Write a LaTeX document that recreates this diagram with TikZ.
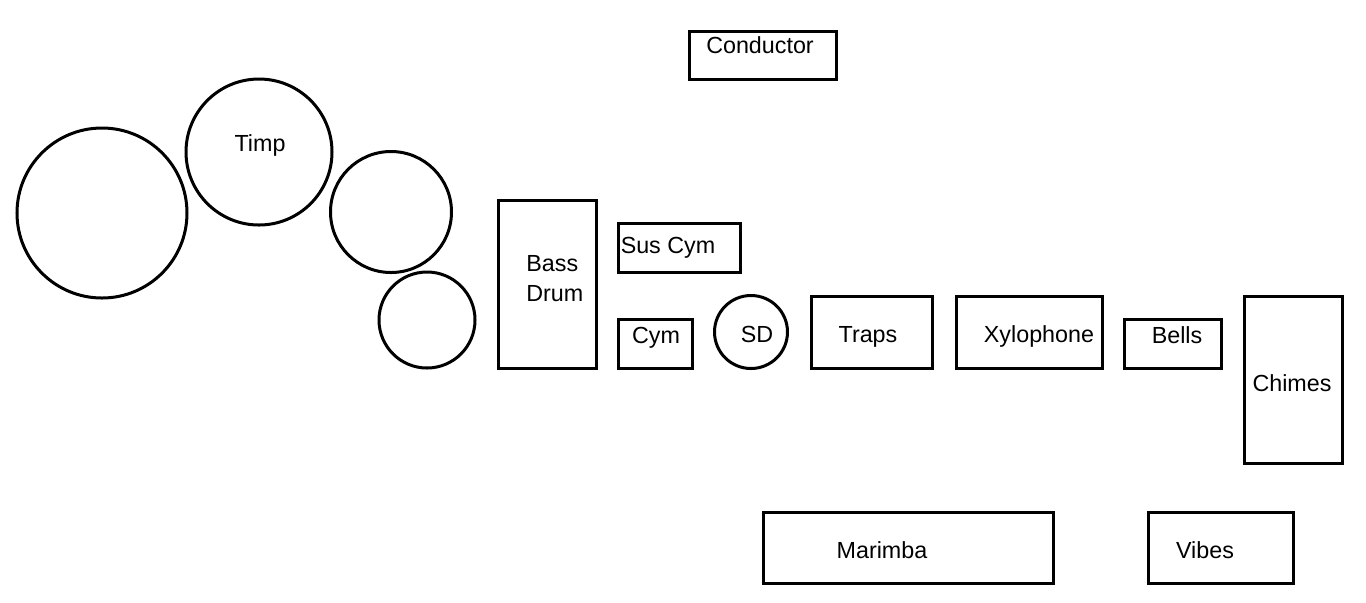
\documentclass[tikz,border=0pt]{standalone}
\usepackage{fontspec}
\setmainfont{Liberation Sans}
\begin{document}
\begin{tikzpicture}[x=0.5pt,y=-0.5pt,
  inst/.style={draw=black,line width=1.5pt,inner sep=0pt,outer sep=0pt},
  drum/.style={inst,circle},
  lbl/.style={anchor=base,inner sep=0pt,font=\fontsize{11.65}{14}\selectfont}]
\useasboundingbox[fill=white] (0,0) rectangle (1366,602);
% rectangles
\node[inst,minimum width=73.5pt,minimum height=24pt] (cond) at (762.5,55) {};
\node[inst,minimum width=49pt,minimum height=84pt] (bass) at (547,284) {};
\node[inst,minimum width=61pt,minimum height=24.5pt] (sus) at (679,247.5) {};
\node[inst,minimum width=37pt,minimum height=24.5pt] (cym) at (655,343.5) {};
\node[inst,minimum width=60.5pt,minimum height=36pt] (traps) at (871.5,332) {};
\node[inst,minimum width=73pt,minimum height=36pt] (xylo) at (1029,332) {};
\node[inst,minimum width=48.5pt,minimum height=24.5pt] (bells) at (1172.5,343.5) {};
\node[inst,minimum width=49pt,minimum height=83.5pt] (chimes) at (1293,379.5) {};
\node[inst,minimum width=145pt,minimum height=35.5pt] (marimba) at (908,547.5) {};
\node[inst,minimum width=72.5pt,minimum height=35.5pt] (vibes) at (1220.5,547.5) {};
% drums
\node[drum,minimum size=85pt] (timp1) at (102,213) {};
\node[drum,minimum size=73pt] (timp2) at (259,152) {};
\node[drum,minimum size=60.5pt] (timp3) at (391,212) {};
\node[drum,minimum size=48pt] (timp4) at (427,320) {};
\node[drum,minimum size=36.5pt] (sd) at (751,332) {};
% labels
\node[lbl] (condT) at (760,53) {Conductor};
\node[lbl] (timpT) at (260,151) {Timp};
\node[lbl,anchor=base west] (bassT1) at (526,271) {Bass};
\node[lbl,anchor=base west] (bassT2) at (526,301) {Drum};
\node[lbl] (susT) at (668,253) {Sus Cym};
\node[lbl] (cymT) at (656,343) {Cym};
\node[lbl] (sdT) at (757,342) {SD};
\node[lbl] (trapsT) at (868,342) {Traps};
\node[lbl] (xyloT) at (1039,342) {Xylophone};
\node[lbl] (bellsT) at (1177,343) {Bells};
\node[lbl] (chimesT) at (1292,391) {Chimes};
\node[lbl] (marimbaT) at (882,558) {Marimba};
\node[lbl] (vibesT) at (1205,558) {Vibes};
\end{tikzpicture}
\end{document}
